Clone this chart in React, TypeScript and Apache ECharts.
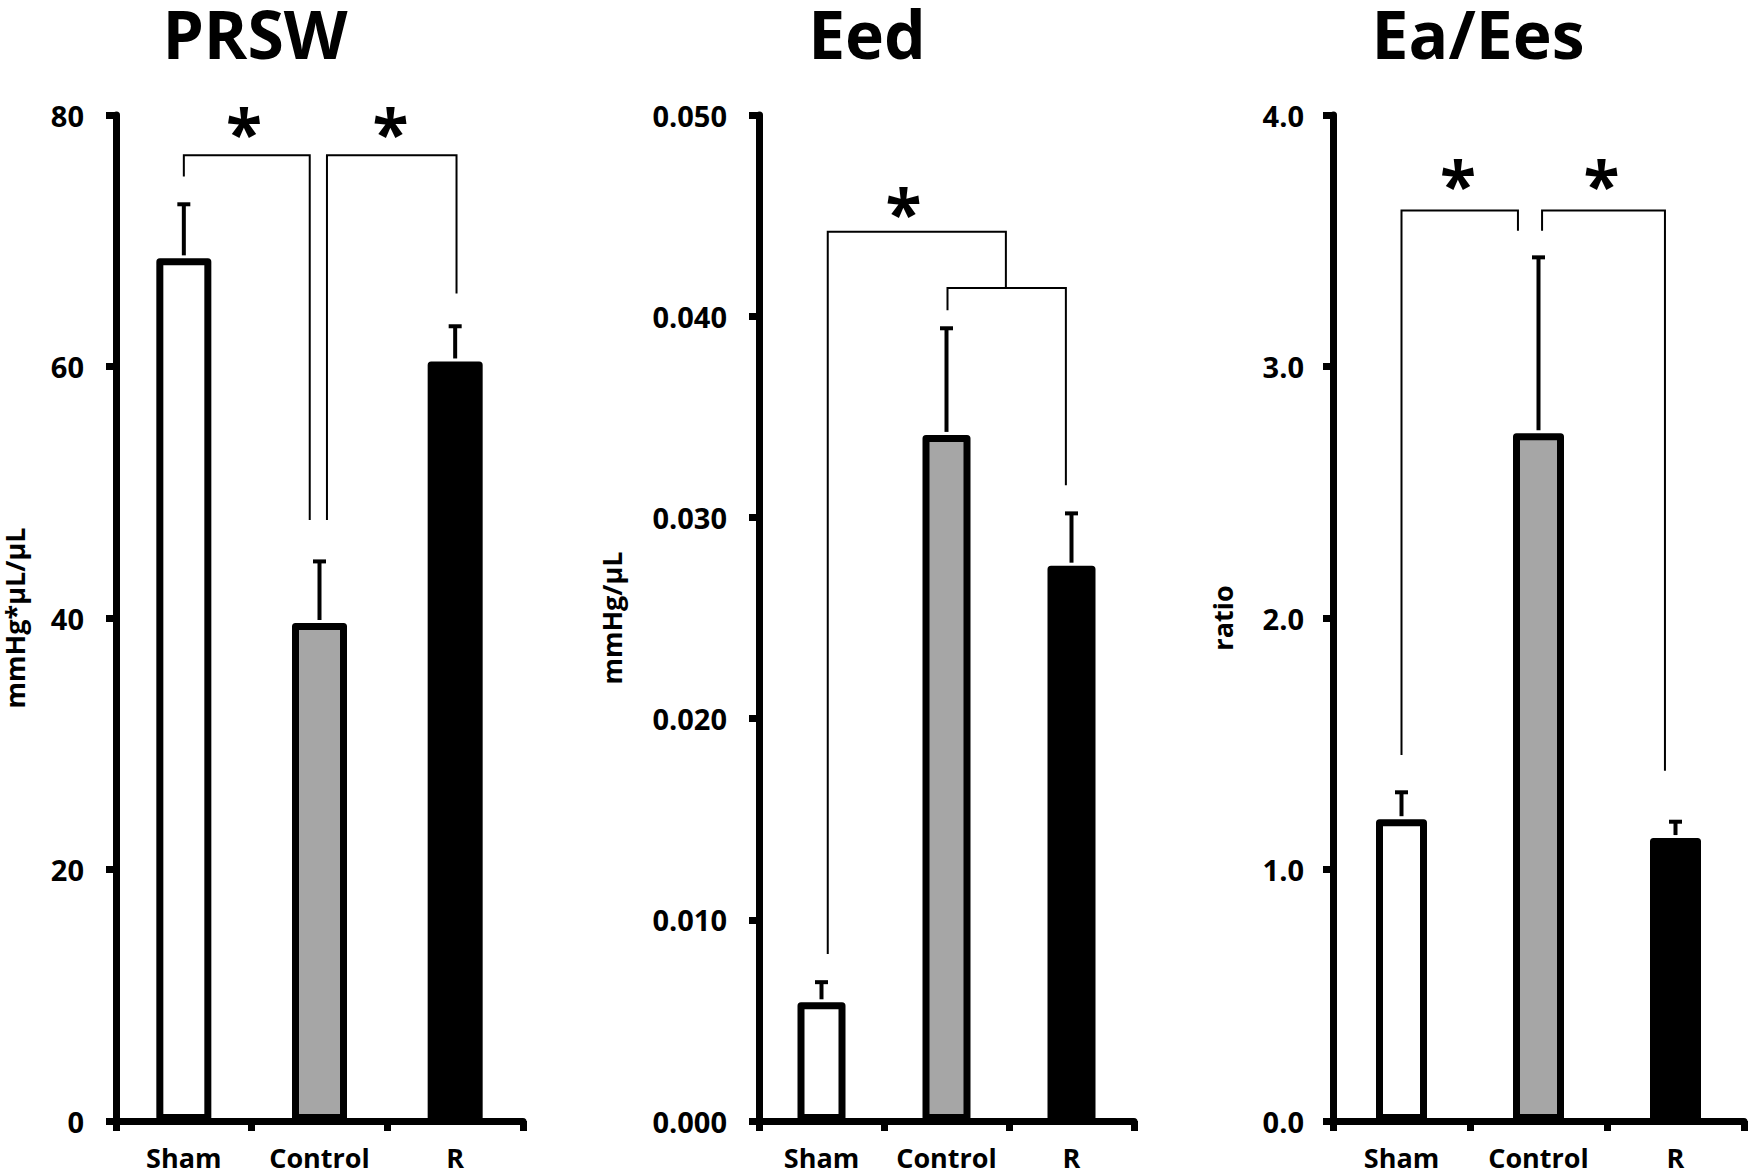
import React, { useEffect, useRef } from "react";
import * as echarts from "echarts";

const categories = ["Sham", "Control", "R"];
const titles = ["PRSW", "Eed", "Ea/Ees"];
const yNames = ["mmHg*μL/μL", "mmHg/μL", "ratio"];
const barFills = ["#ffffff", "#a6a6a6", "#000000"];

// PRSW
const prswMeans = [68.6, 39.6, 60.4];
const prswUpper = [72.9, 44.5, 63.2];
// Eed
const eedMeans = [0.0059, 0.0341, 0.0276];
const eedUpper = [0.0069, 0.0394, 0.0302];
// Ea/Ees
const ratioMeans = [1.2, 2.735, 1.125];
const ratioUpper = [1.307, 3.434, 1.19];

// axis ranges [min, max, interval]
const prswAxis = [0, 80, 20];
const eedAxis = [0, 0.05, 0.01];
const ratioAxis = [0, 4, 1];
const tickDecimals = [0, 3, 1];

// significance brackets: points as [category position, value]
const prswBrackets = [
  [[0, 75.1], [0, 76.8], [0.928, 76.8], [0.928, 47.8]],
  [[1.055, 47.8], [1.055, 76.8], [2.01, 76.8], [2.01, 65.8]],
];
const eedBrackets = [
  [[0.05, 0.0083], [0.05, 0.0442], [1.475, 0.0442], [1.475, 0.0414]],
  [[1.008, 0.0403], [1.008, 0.0414], [1.955, 0.0414], [1.955, 0.0316]],
];
const ratioBrackets = [
  [[0, 1.455], [0, 3.62], [0.85, 3.62], [0.85, 3.54]],
  [[1.026, 3.54], [1.026, 3.62], [1.923, 3.62], [1.923, 1.393]],
];
// asterisks: [category position, value of glyph centre]
const prswStars = [[0.444, 79.6], [1.523, 79.6]];
const eedStars = [[0.656, 0.0458]];
const ratioStars = [[0.413, 3.772], [1.46, 3.772]];

const FONT = '"Open Sans", "Noto Sans", sans-serif';

const panels = [
  { means: prswMeans, upper: prswUpper, axis: prswAxis, brackets: prswBrackets, stars: prswStars },
  { means: eedMeans, upper: eedUpper, axis: eedAxis, brackets: eedBrackets, stars: eedStars },
  { means: ratioMeans, upper: ratioUpper, axis: ratioAxis, brackets: ratioBrackets, stars: ratioStars },
];

const grids = [
  { left: 106, top: 115, width: 417, height: 1006 },
  { left: 759, top: 115, width: 375, height: 1006 },
  { left: 1333, top: 115, width: 411, height: 1006 },
];
const barWidths = [55, 48, 51];
const labelMargins = [32, 32, 29];
const nameGaps = [88, 134, 97];
const titlePos = [
  [255, 33],
  [867, 33],
  [1478, 33],
];

function posAt(api: any, xi: number, v: number) {
  const base = api.coord([0, v]);
  const bw = api.size([1, 0])[0];
  return [base[0] + xi * bw, base[1]];
}

export default function App() {
  const ref = useRef<HTMLDivElement>(null);
  useEffect(() => {
    document.body.style.margin = "0";
    const chart = echarts.init(ref.current!, null, { renderer: "svg" });

    const xAxis = panels.map((_, i) => ({
      gridIndex: i,
      type: "category",
      data: categories,
      axisLine: { show: true, lineStyle: { color: "#000", width: 7 } },
      axisTick: { show: true, length: 10, lineStyle: { color: "#000", width: 7 } },
      axisLabel: {
        interval: 0,
        margin: 23,
        color: "#000",
        fontSize: 27,
        fontWeight: "bold",
        fontFamily: FONT,
      },
    }));

    const yAxis = panels.map((p, i) => ({
      gridIndex: i,
      type: "value",
      min: p.axis[0],
      max: p.axis[1],
      interval: p.axis[2],
      name: yNames[i],
      nameLocation: "middle",
      nameGap: nameGaps[i],
      nameRotate: 90,
      nameTextStyle: { color: "#000", fontSize: 27, fontWeight: "bold", fontFamily: FONT },
      axisLine: { show: true, lineStyle: { color: "#000", width: 7 } },
      axisTick: { show: true, length: 10, lineStyle: { color: "#000", width: 7 } },
      splitLine: { show: false },
      axisLabel: {
        margin: labelMargins[i],
        color: "#000",
        fontSize: 29,
        fontWeight: "bold",
        fontFamily: FONT,
        formatter: (v: number) => v.toFixed(tickDecimals[i]),
      },
    }));

    const series: any[] = [];
    panels.forEach((p, i) => {
      series.push({
        type: "bar",
        xAxisIndex: i,
        yAxisIndex: i,
        barWidth: barWidths[i],
        itemStyle: { borderColor: "#000", borderWidth: 7, borderJoin: "round" },
        data: p.means.map((v, k) => ({ value: v, itemStyle: { color: barFills[k] } })),
        z: 2,
      });
      series.push({
        type: "custom",
        xAxisIndex: i,
        yAxisIndex: i,
        clip: false,
        z: 3,
        encode: { x: 0, y: [1, 2] },
        data: p.means.map((v, k) => [k, v, p.upper[k]]),
        renderItem: (params: any, api: any) => {
          const x = api.value(0);
          const lo = api.coord([x, api.value(1)]);
          const hi = api.coord([x, api.value(2)]);
          return {
            type: "group",
            children: [
              {
                type: "line",
                shape: { x1: lo[0], y1: lo[1] - 3, x2: hi[0], y2: hi[1] },
                style: { stroke: "#000", lineWidth: 4 },
              },
              {
                type: "line",
                shape: { x1: hi[0] - 6.5, y1: hi[1], x2: hi[0] + 6.5, y2: hi[1] },
                style: { stroke: "#000", lineWidth: 4 },
              },
            ],
          };
        },
      });
      series.push({
        type: "custom",
        xAxisIndex: i,
        yAxisIndex: i,
        clip: false,
        z: 4,
        data: p.brackets.map((b) => [0, b[0][1]]),
        renderItem: (params: any, api: any) => {
          const pts = p.brackets[params.dataIndex].map(([xi, v]) => posAt(api, xi, v));
          return {
            type: "polyline",
            shape: { points: pts },
            style: { stroke: "#000", lineWidth: 2, fill: null },
          };
        },
      });
      series.push({
        type: "custom",
        xAxisIndex: i,
        yAxisIndex: i,
        clip: false,
        z: 5,
        data: p.stars.map((s) => [0, s[1]]),
        renderItem: (params: any, api: any) => {
          const s = p.stars[params.dataIndex];
          const pt = posAt(api, s[0], s[1]);
          return {
            type: "text",
            x: pt[0],
            y: pt[1] + 12,
            style: {
              text: "*",
              fill: "#000",
              fontSize: 66,
              fontWeight: "bold",
              fontFamily: FONT,
              align: "center",
              verticalAlign: "middle",
            },
          };
        },
      });
    });

    chart.setOption({
      animation: false,
      backgroundColor: "#ffffff",
      grid: grids,
      xAxis,
      yAxis,
      series,
      graphic: titles.map((t, i) => ({
        type: "text",
        x: titlePos[i][0],
        y: titlePos[i][1],
        style: {
          text: t,
          fill: "#000",
          fontSize: 66,
          fontWeight: "bold",
          fontFamily: FONT,
          align: "center",
          verticalAlign: "middle",
        },
      })),
    });
    return () => chart.dispose();
  }, []);
  return <div ref={ref} style={{ width: 1749, height: 1175 }} />;
}
